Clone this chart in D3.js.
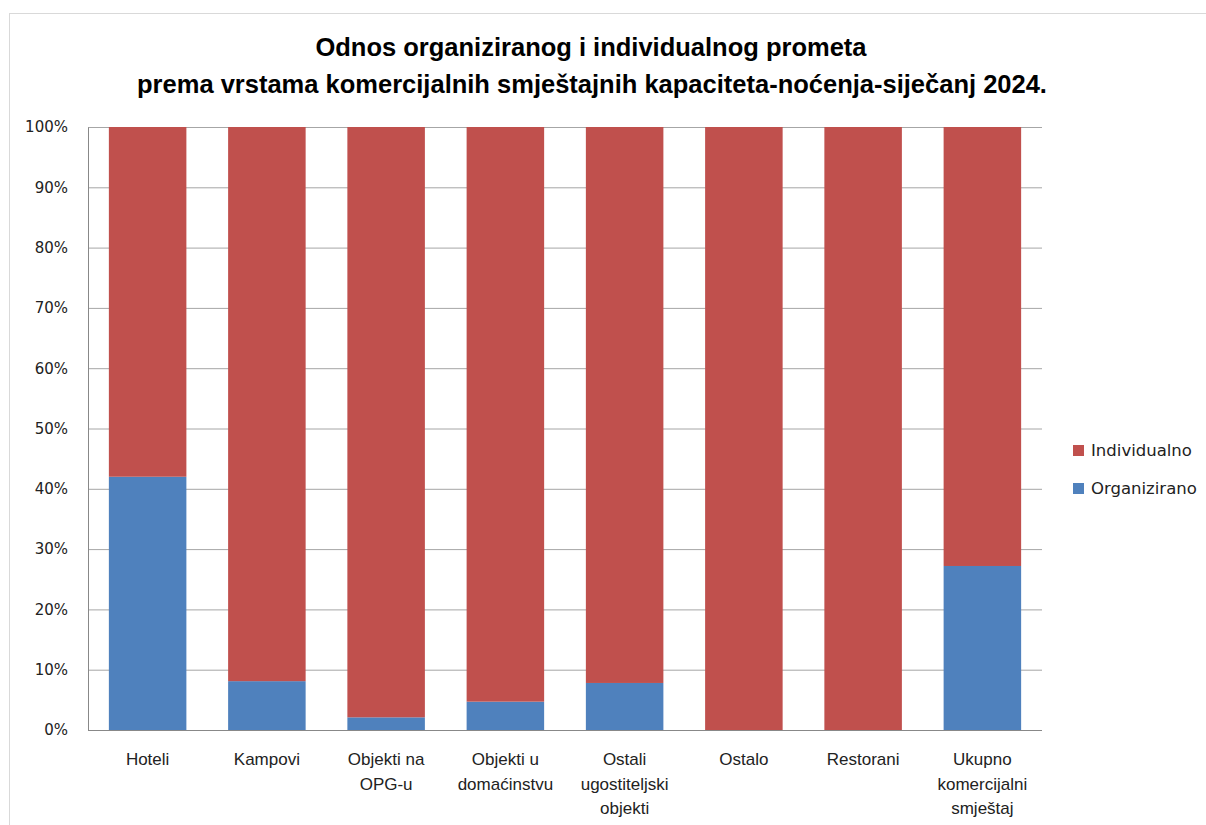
<!DOCTYPE html>
<html>
<head>
<meta charset="utf-8">
<script src="https://cdn.jsdelivr.net/npm/d3@7"></script>
<style>
  body { margin: 0; background: #fff; }
  .grid line { stroke: #a6a6a6; }
  .grid path { display: none; }
  .y-axis text { font-family: "DejaVu Sans", Verdana, sans-serif; font-size: 15px; fill: #222; }
  .x-label { font-family: "Liberation Sans Narrow", "Liberation Sans", sans-serif; font-size: 17px; fill: #222; }
</style>
</head>
<body>
<div class="chart"></div>
<script>
var categories = [
    ["Hoteli"],
    ["Kampovi"],
    ["Objekti na", "OPG-u"],
    ["Objekti u", "domaćinstvu"],
    ["Ostali", "ugostiteljski", "objekti"],
    ["Ostalo"],
    ["Restorani"],
    ["Ukupno", "komercijalni", "smještaj"]
];
var organizirano = [42.0, 8.1, 2.1, 4.7, 7.8, 0, 0, 27.2];
var individualno = [58.0, 91.9, 97.9, 95.3, 92.2, 100, 100, 72.8];
var seriesNames = ["Individualno", "Organizirano"];
var seriesColors = ["#c0504d", "#4f81bd"];
var yTicks = [0, 10, 20, 30, 40, 50, 60, 70, 80, 90, 100];

var W = 1206, H = 825;
var margin = { top: 127, right: 164, bottom: 95, left: 88 },
    width = W - margin.left - margin.right,
    height = H - margin.top - margin.bottom;

var root = d3.select(".chart").append("svg")
    .attr("width", W)
    .attr("height", H);

// chart frame
root.append("rect")
    .attr("x", 9.5).attr("y", 13.5)
    .attr("width", W).attr("height", H)
    .attr("fill", "none")
    .attr("stroke", "#d9d9d9");

var title = root.append("text")
    .attr("text-anchor", "middle")
    .style("font-family", "'Liberation Sans Narrow', 'Liberation Sans', sans-serif")
    .style("font-weight", "bold")
    .style("font-size", "25.5px")
    .attr("fill", "#000");
title.append("tspan").attr("x", 591).attr("y", 56).text("Odnos organiziranog i individualnog prometa");
title.append("tspan").attr("x", 592).attr("y", 93).text("prema vrstama komercijalnih smještajnih kapaciteta-noćenja-siječanj 2024.");

var svg = root.append("g")
    .attr("transform", "translate(" + margin.left + "," + margin.top + ")");

var idx = d3.range(categories.length);
var x = d3.scaleBand().domain(idx).range([0, width]).paddingInner(0.35).paddingOuter(0.175);
var y = d3.scaleLinear().domain([0, 100]).range([height, 0]);

svg.append("g")
    .attr("class", "grid")
    .call(d3.axisLeft(y).tickValues(yTicks).tickSize(-width).tickFormat(""));

svg.append("g")
    .attr("class", "y-axis")
    .call(d3.axisLeft(y).tickValues(yTicks).tickSize(0).tickPadding(20).tickFormat(function(d) { return d + "%"; }))
    .call(function(g) { g.select(".domain").attr("stroke", "#888"); });

svg.append("line")
    .attr("x1", 0).attr("x2", width)
    .attr("y1", height + 0.5).attr("y2", height + 0.5)
    .attr("stroke", "#888");

var stackData = idx.map(function(i) {
    return { i: i, Organizirano: organizirano[i], Individualno: individualno[i] };
});
var stack = d3.stack().keys(["Organizirano", "Individualno"]);
var layers = stack(stackData);
var color = d3.scaleOrdinal().domain(seriesNames).range(seriesColors);

svg.selectAll("g.layer")
    .data(layers)
    .enter().append("g")
    .attr("class", "layer")
    .attr("fill", function(d) { return color(d.key); })
    .selectAll("rect")
    .data(function(d) { return d; })
    .enter().append("rect")
    .attr("x", function(d) { return x(d.data.i); })
    .attr("width", x.bandwidth())
    .attr("y", function(d) { return y(d[1]); })
    .attr("height", function(d) { return y(d[0]) - y(d[1]); });

var xl = svg.selectAll("text.x-label")
    .data(idx)
    .enter().append("text")
    .attr("class", "x-label")
    .attr("text-anchor", "middle");
xl.each(function(i) {
    var t = d3.select(this);
    categories[i].forEach(function(line, k) {
        t.append("tspan")
            .attr("x", x(i) + x.bandwidth() / 2)
            .attr("y", height + 35 + k * 24.5)
            .text(line);
    });
});

var legend = root.append("g").attr("transform", "translate(1073,450)");
seriesNames.forEach(function(name, k) {
    var g = legend.append("g").attr("transform", "translate(0," + (k * 38) + ")");
    g.append("rect").attr("x", 0).attr("y", -5).attr("width", 11).attr("height", 11).attr("fill", seriesColors[k]);
    g.append("text")
        .attr("x", 18).attr("y", 6)
        .style("font-family", "'DejaVu Sans', Verdana, sans-serif")
        .style("font-size", "16.5px")
        .attr("fill", "#222")
        .text(name);
});
</script>
</body>
</html>
